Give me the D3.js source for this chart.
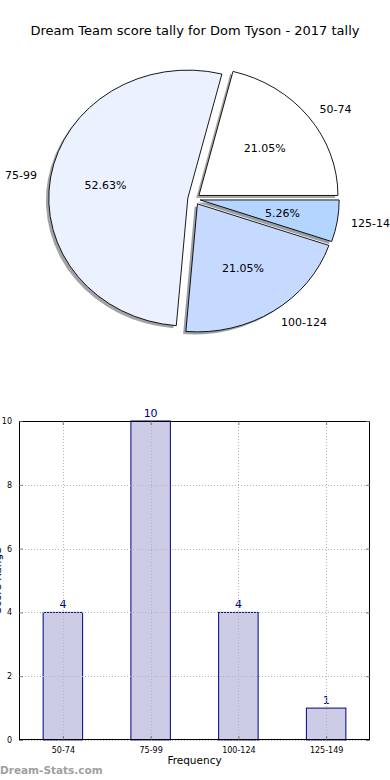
<!DOCTYPE html>
<html>
<head>
<meta charset="utf-8">
<script src="https://cdn.jsdelivr.net/npm/d3@7"></script>
<style>
  html, body { margin: 0; padding: 0; background: #fff; }
  svg { display: block; font-family: "DejaVu Sans", sans-serif; }
</style>
</head>
<body>
<svg id="chart" width="390" height="780"></svg>
<script>
// ---- data ----
const titleText = "Dream Team score tally for Dom Tyson - 2017 tally";
const categories = ["50-74", "75-99", "100-124", "125-149"];
const counts = [4, 10, 4, 1];
const pieColors = ["#ffffff", "#ebf1ff", "#c6daff", "#b4d5ff"];
const yTicks = [0, 2, 4, 6, 8, 10];
const xAxisLabel = "Frequency";
const yAxisLabel = "Score Range";
const watermark = "Dream-Stats.com";

const svg = d3.select("#chart");

// ---- title ----
svg.append("text")
  .attr("x", 195).attr("y", 35)
  .attr("text-anchor", "middle")
  .attr("font-size", 13)
  .attr("fill", "#000")
  .text(titleText);

// ---- pie ----
const cx = 194, cy = 199, rx = 139, ry = 128;
const explode = 0.045, shadowOff = 0.02;
const total = d3.sum(counts);
const pie = d3.pie().sort(null)
  .startAngle(Math.PI / 2)
  .endAngle(Math.PI / 2 - 2 * Math.PI);
const arcs = pie(counts);
const arc = d3.arc().innerRadius(0).outerRadius(1);

function centerOf(d) {
  const mid = (d.startAngle + d.endAngle) / 2;
  return [Math.sin(mid), -Math.cos(mid)];
}

const pieG = svg.append("g");
// shadows
arcs.forEach((d, i) => {
  const [ux, uy] = centerOf(d);
  const ox = cx + ux * explode * rx - shadowOff * rx;
  const oy = cy + uy * explode * ry + shadowOff * ry;
  const c = d3.rgb(pieColors[i]);
  pieG.append("path")
    .attr("transform", `translate(${ox},${oy}) scale(${rx},${ry})`)
    .attr("d", arc(d))
    .attr("fill", d3.rgb(c.r * 0.3, c.g * 0.3, c.b * 0.3))
    .attr("fill-opacity", 0.5)
    .attr("stroke", "none");
});
// wedges
arcs.forEach((d, i) => {
  const [ux, uy] = centerOf(d);
  const ox = cx + ux * explode * rx;
  const oy = cy + uy * explode * ry;
  pieG.append("path")
    .attr("transform", `translate(${ox},${oy}) scale(${rx},${ry})`)
    .attr("d", arc(d))
    .attr("fill", pieColors[i])
    .attr("stroke", "#000")
    .attr("stroke-width", 0.9)
    .attr("vector-effect", "non-scaling-stroke")
    .attr("stroke-linejoin", "miter");
});
// labels
arcs.forEach((d, i) => {
  const [ux, uy] = centerOf(d);
  const ox = cx + ux * explode * rx;
  const oy = cy + uy * explode * ry;
  pieG.append("text")
    .attr("x", ox + ux * 1.1 * rx)
    .attr("y", oy + uy * 1.1 * ry)
    .attr("dy", "0.36em")
    .attr("text-anchor", ux > 0 ? "start" : "end")
    .attr("font-size", 11)
    .text(categories[i]);
  pieG.append("text")
    .attr("x", ox + ux * 0.6 * rx)
    .attr("y", oy + uy * 0.6 * ry)
    .attr("dy", "0.36em")
    .attr("text-anchor", "middle")
    .attr("font-size", 11)
    .text((counts[i] / total * 100).toFixed(2) + "%");
});

// ---- bar chart ----
const L = 19, R = 370, T = 421, B = 740;
const x = d3.scaleLinear().domain([-0.5, categories.length - 0.5]).range([L, R]);
const y = d3.scaleLinear().domain([0, 10]).range([B, T]);
const barW = 0.45;
const navy = "#000080";

const barG = svg.append("g");
barG.selectAll("rect.bar").data(counts).enter().append("rect")
  .attr("class", "bar")
  .attr("x", (d, i) => x(i - barW / 2))
  .attr("y", d => y(d))
  .attr("width", x(barW) - x(0))
  .attr("height", d => y(0) - y(d))
  .attr("fill", "#cccce6")
  .attr("stroke", navy)
  .attr("stroke-width", 1);

// grid
const gridG = svg.append("g")
  .attr("stroke", "#b4b4b4").attr("stroke-width", 1)
  .attr("stroke-dasharray", "1,2");
yTicks.forEach(t => {
  gridG.append("line").attr("x1", L).attr("x2", R)
    .attr("y1", Math.round(y(t)) + 0.5).attr("y2", Math.round(y(t)) + 0.5);
});
categories.forEach((c, i) => {
  gridG.append("line").attr("y1", T).attr("y2", B)
    .attr("x1", Math.round(x(i)) + 0.5).attr("x2", Math.round(x(i)) + 0.5);
});

// frame
svg.append("rect").attr("x", L + 0.5).attr("y", T + 0.5)
  .attr("width", R - L - 1).attr("height", B - T - 1)
  .attr("fill", "none").attr("stroke", "#000").attr("stroke-width", 1);

// axes (inward ticks on all sides)
const axL = d3.axisLeft(y).tickValues(yTicks).tickSizeInner(-4).tickSizeOuter(0).tickPadding(7);
const axR = d3.axisRight(y).tickValues(yTicks).tickSizeInner(-4).tickSizeOuter(0).tickFormat("");
const xBand = d3.range(categories.length);
const axB = d3.axisBottom(x).tickValues(xBand).tickSizeInner(-4).tickSizeOuter(0)
  .tickPadding(7).tickFormat(i => categories[i]);
const axT = d3.axisTop(x).tickValues(xBand).tickSizeInner(-4).tickSizeOuter(0).tickFormat("");

function styleAxis(g) {
  g.select(".domain").remove();
  g.selectAll(".tick line").attr("stroke", "#666").attr("stroke-width", 0.8);
  g.selectAll("text").attr("font-size", 8).attr("font-family", "DejaVu Sans, sans-serif").attr("fill", "#000");
}
svg.append("g").attr("transform", `translate(${L},0)`).call(axL).call(styleAxis);
svg.append("g").attr("transform", `translate(${R},0)`).call(axR).call(styleAxis);
svg.append("g").attr("transform", `translate(0,${B})`).call(axB).call(styleAxis);
svg.append("g").attr("transform", `translate(0,${T})`).call(axT).call(styleAxis);

// value labels
barG.selectAll("text.val").data(counts).enter().append("text")
  .attr("class", "val")
  .attr("x", (d, i) => x(i))
  .attr("y", d => y(d) - 4)
  .attr("text-anchor", "middle")
  .attr("font-size", 11)
  .attr("fill", navy)
  .text(d => d);

// axis labels
svg.append("text")
  .attr("x", (L + R) / 2).attr("y", 764)
  .attr("text-anchor", "middle")
  .attr("font-size", 10.5)
  .text(xAxisLabel);
svg.append("text")
  .attr("transform", `translate(1,${(T + B) / 2}) rotate(-90)`)
  .attr("text-anchor", "middle")
  .attr("font-size", 10.5)
  .text(yAxisLabel);

// watermark
svg.append("text")
  .attr("x", 0).attr("y", 774)
  .attr("font-size", 10.5)
  .attr("font-weight", "bold")
  .attr("fill", "#a0a0a0")
  .text(watermark);
</script>
</body>
</html>
